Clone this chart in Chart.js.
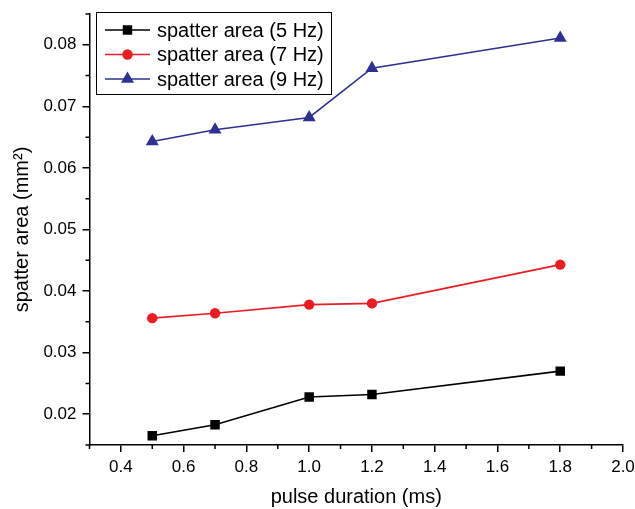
<!DOCTYPE html>
<html>
<head>
<meta charset="utf-8">
<script src="https://cdn.jsdelivr.net/npm/chart.js@4.4.0/dist/chart.umd.min.js"></script>
<style>
  html, body { margin: 0; padding: 0; background: #fff; }
  #wrap { width: 635px; height: 509px; }
</style>
</head>
<body>
<div id="wrap"><canvas id="spatterChart"></canvas></div>
<script>
// pulse duration vs spatter area, three frequencies

const pulseDuration = [0.5, 0.7, 1.0, 1.2, 1.8];
const area5Hz = [0.0165, 0.0183, 0.0228, 0.0232, 0.0270];
const area7Hz = [0.0356, 0.0364, 0.0378, 0.0380, 0.0443];
const area9Hz = [0.0643, 0.0662, 0.0682, 0.0762, 0.0811];

const xTicks = [0.4, 0.6, 0.8, 1.0, 1.2, 1.4, 1.6, 1.8, 2.0];
const xMinorTicks = [0.3, 0.5, 0.7, 0.9, 1.1, 1.3, 1.5, 1.7, 1.9];
const yTicks = [0.02, 0.03, 0.04, 0.05, 0.06, 0.07, 0.08];
const yMinorTicks = [0.015, 0.025, 0.035, 0.045, 0.055, 0.065, 0.075, 0.085];

const seriesNames = ['spatter area (5 Hz)', 'spatter area (7 Hz)', 'spatter area (9 Hz)'];

const FONT = 'Liberation Sans, Arial, sans-serif';

function toPoints(ys) {
  return pulseDuration.map((x, i) => ({ x: x, y: ys[i] }));
}

// small helper for legend markers
function marker(ctx, style, x, y, r, color) {
  ctx.save();
  ctx.fillStyle = color;
  ctx.beginPath();
  if (style === 'rect') {
    const s = r * Math.SQRT1_2;
    ctx.rect(x - s, y - s, 2 * s, 2 * s);
  } else if (style === 'circle') {
    ctx.arc(x, y, r, 0, Math.PI * 2);
  } else {
    ctx.moveTo(x, y - r);
    ctx.lineTo(x + r * Math.sin(Math.PI / 3), y + r / 2);
    ctx.lineTo(x - r * Math.sin(Math.PI / 3), y + r / 2);
    ctx.closePath();
  }
  ctx.fill();
  ctx.restore();
}

const minorTicks = {
  id: 'minorTicks',
  afterDraw(chart) {
    const ctx = chart.ctx;
    const xs = chart.scales.x, ys = chart.scales.y;
    const area = chart.chartArea;
    ctx.save();
    ctx.strokeStyle = '#000';
    ctx.lineWidth = 1.5;
    ctx.beginPath();
    xMinorTicks.forEach(v => {
      const px = xs.getPixelForValue(v);
      ctx.moveTo(px, area.bottom);
      ctx.lineTo(px, area.bottom + 4);
    });
    yMinorTicks.forEach(v => {
      const py = ys.getPixelForValue(v);
      ctx.moveTo(area.left, py);
      ctx.lineTo(area.left - 4, py);
    });
    ctx.stroke();
    ctx.restore();
  }
};

const boxLegend = {
  id: 'boxLegend',
  afterDraw(chart) {
    const ctx = chart.ctx;
    const left = 96, top = 12, w = 235, h = 82;
    ctx.save();
    ctx.fillStyle = '#fff';
    ctx.fillRect(left, top, w, h);
    ctx.strokeStyle = '#000';
    ctx.lineWidth = 1;
    ctx.strokeRect(left + 0.5, top + 0.5, w, h);
    ctx.font = '20px ' + FONT;
    ctx.textBaseline = 'middle';
    chart.data.datasets.forEach((ds, i) => {
      const y = 30 + i * 24.5;
      ctx.strokeStyle = ds.borderColor;
      ctx.lineWidth = 1.6;
      ctx.beginPath();
      ctx.moveTo(105, y);
      ctx.lineTo(150, y);
      ctx.stroke();
      marker(ctx, ds.pointStyle, 127.5, y, ds.pointRadius, ds.borderColor);
      ctx.fillStyle = '#000';
      ctx.fillText(ds.label, 157, y + 1);
    });
    ctx.restore();
  }
};

new Chart(document.getElementById('spatterChart'), {
  type: 'line',
  data: {
    datasets: [{
      label: seriesNames[0],
      data: toPoints(area5Hz),
      borderColor: '#000000',
      backgroundColor: '#000000',
      pointStyle: 'rect',
      pointRadius: 6.7,
      pointBorderWidth: 0
    }, {
      label: seriesNames[1],
      data: toPoints(area7Hz),
      borderColor: '#ED1C24',
      backgroundColor: '#ED1C24',
      pointStyle: 'circle',
      pointRadius: 5.2,
      pointBorderWidth: 0
    }, {
      label: seriesNames[2],
      data: toPoints(area9Hz),
      borderColor: '#2E3192',
      backgroundColor: '#2E3192',
      pointStyle: 'triangle',
      pointRadius: 7.5,
      pointBorderWidth: 0
    }]
  },
  options: {
    responsive: true,
    maintainAspectRatio: false,
    animation: false,
    elements: { line: { borderWidth: 1.6, tension: 0 } },
    layout: { padding: { top: 14, right: 12, left: 0, bottom: 0 } },
    plugins: {
      legend: { display: false },
      tooltip: { enabled: false }
    },
    scales: {
      x: {
        type: 'linear',
        min: 0.3,
        max: 2.0,
        afterBuildTicks: s => { s.ticks = xTicks.map(v => ({ value: v })); },
        afterFit: s => { s.height = 64; s.paddingRight = 0; s.paddingLeft = 0; },
        border: { display: true, color: '#000', width: 1.5 },
        grid: { drawOnChartArea: false, drawTicks: true, tickLength: 7, color: '#000', lineWidth: 1.5 },
        ticks: {
          color: '#000',
          font: { family: FONT, size: 17 },
          padding: 5,
          maxRotation: 0,
          callback: v => v.toFixed(1)
        },
        title: {
          display: true,
          text: 'pulse duration (ms)',
          color: '#000',
          font: { family: FONT, size: 20 },
          padding: { top: 0, bottom: 0 }
        }
      },
      y: {
        type: 'linear',
        min: 0.015,
        max: 0.085,
        afterBuildTicks: s => { s.ticks = yTicks.map(v => ({ value: v })); },
        afterFit: s => { s.width = 89.5; s.paddingTop = 0; s.paddingBottom = 0; },
        border: { display: true, color: '#000', width: 1.5 },
        grid: { drawOnChartArea: false, drawTicks: true, tickLength: 7, color: '#000', lineWidth: 1.5 },
        ticks: {
          color: '#000',
          font: { family: FONT, size: 17 },
          padding: 6,
          callback: v => v.toFixed(2)
        },
        title: {
          display: true,
          text: 'spatter area (mm²)',
          color: '#000',
          font: { family: FONT, size: 20 },
          padding: { top: 10, bottom: 0 }
        }
      }
    }
  },
  plugins: [minorTicks, boxLegend]
});
</script>
</body>
</html>
